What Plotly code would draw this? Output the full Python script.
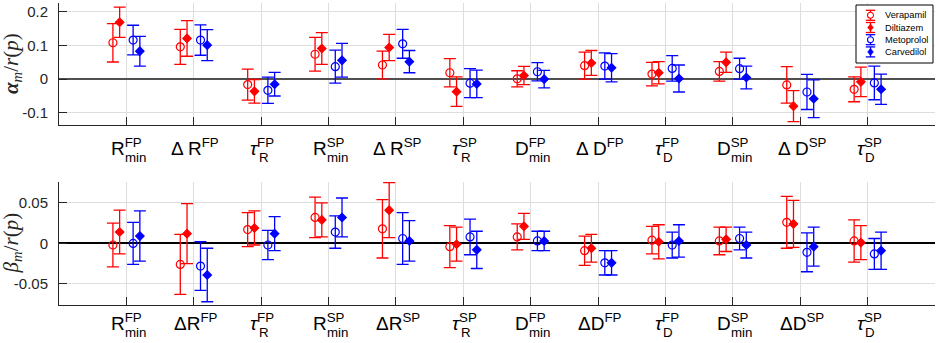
import plotly.graph_objects as go

# ---------------- data ----------------
cat_base_top = ["R", "Δ R", "τ", "R", "Δ R", "τ", "D", "Δ D", "τ", "D", "Δ D", "τ"]
cat_base_bot = ["R", "ΔR", "τ", "R", "ΔR", "τ", "D", "ΔD", "τ", "D", "ΔD", "τ"]
cat_sup = ["FP", "FP", "FP", "SP", "SP", "SP", "FP", "FP", "FP", "SP", "SP", "SP"]
cat_sub = ["min", "", "R", "min", "", "R", "min", "", "D", "min", "", "D"]

drugs = ["Verapamil", "Diltiazem", "Metoprolol", "Carvedilol"]

alpha_verapamil = [0.108, 0.096, -0.016, 0.074, 0.042, 0.019, 0.001, 0.040, 0.015, 0.023, -0.017, -0.030]
alpha_verapamil_err = [0.057, 0.052, 0.046, 0.050, 0.041, 0.042, 0.024, 0.040, 0.035, 0.029, 0.054, 0.037]
alpha_diltiazem = [0.169, 0.121, -0.036, 0.091, 0.094, -0.037, 0.011, 0.048, 0.019, 0.050, -0.080, -0.008]
alpha_diltiazem_err = [0.045, 0.053, 0.035, 0.047, 0.039, 0.044, 0.027, 0.037, 0.033, 0.030, 0.046, 0.044]
alpha_metoprolol = [0.116, 0.116, -0.033, 0.037, 0.105, -0.012, 0.022, 0.039, 0.032, 0.031, -0.038, -0.011]
alpha_metoprolol_err = [0.044, 0.045, 0.039, 0.049, 0.043, 0.043, 0.027, 0.039, 0.038, 0.031, 0.052, 0.050]
alpha_carvedilol = [0.083, 0.101, -0.015, 0.056, 0.052, -0.014, 0.000, 0.034, 0.002, 0.005, -0.058, -0.030]
alpha_carvedilol_err = [0.044, 0.046, 0.035, 0.050, 0.033, 0.041, 0.026, 0.042, 0.040, 0.034, 0.056, 0.045]

beta_verapamil = [-0.002, -0.026, 0.017, 0.032, 0.018, -0.004, 0.008, -0.009, 0.004, 0.003, 0.026, 0.003]
beta_verapamil_err = [0.027, 0.037, 0.021, 0.025, 0.036, 0.026, 0.016, 0.018, 0.017, 0.017, 0.032, 0.026]
beta_diltiazem = [0.014, 0.012, 0.019, 0.029, 0.041, -0.001, 0.021, -0.006, 0.002, 0.005, 0.024, 0.001]
beta_diltiazem_err = [0.027, 0.037, 0.021, 0.021, 0.034, 0.021, 0.016, 0.017, 0.021, 0.015, 0.029, 0.021]
beta_metoprolol = [0.000, -0.028, -0.002, 0.014, 0.006, 0.008, 0.003, -0.024, -0.002, 0.006, -0.011, -0.013]
beta_metoprolol_err = [0.026, 0.030, 0.018, 0.020, 0.032, 0.022, 0.012, 0.015, 0.016, 0.014, 0.024, 0.019]
beta_carvedilol = [0.009, -0.039, 0.012, 0.032, 0.003, -0.008, 0.003, -0.024, 0.003, -0.002, -0.004, -0.009]
beta_carvedilol_err = [0.031, 0.033, 0.021, 0.024, 0.025, 0.023, 0.012, 0.015, 0.020, 0.016, 0.024, 0.023]

alpha_ticks = [-0.1, 0, 0.1, 0.2]
alpha_ticktext = ["-0.1", "0", "0.1", "0.2"]
beta_ticks = [-0.05, 0, 0.05]
beta_ticktext = ["-0.05", "0", "0.05"]

# ---------------- style ----------------
W, H = 941, 343
ML, MR, MT, MB = 59, 6, 3, 38
PW, PH = W - ML - MR, H - MT - MB
SANS = "Liberation Sans, Arial, sans-serif"
SERIF = "Liberation Serif, Times New Roman, serif"
AX = "#262626"
RED, BLUE = "#ff0000", "#0000ff"

styles = {
    "Verapamil": dict(color=RED, symbol="circle-open", size=8, offset=-0.2),
    "Diltiazem": dict(color=RED, symbol="diamond", size=6.5, offset=-0.1),
    "Metoprolol": dict(color=BLUE, symbol="circle-open", size=8, offset=0.1),
    "Carvedilol": dict(color=BLUE, symbol="diamond", size=6.5, offset=0.2),
}
alpha_data = {
    "Verapamil": (alpha_verapamil, alpha_verapamil_err),
    "Diltiazem": (alpha_diltiazem, alpha_diltiazem_err),
    "Metoprolol": (alpha_metoprolol, alpha_metoprolol_err),
    "Carvedilol": (alpha_carvedilol, alpha_carvedilol_err),
}
beta_data = {
    "Verapamil": (beta_verapamil, beta_verapamil_err),
    "Diltiazem": (beta_diltiazem, beta_diltiazem_err),
    "Metoprolol": (beta_metoprolol, beta_metoprolol_err),
    "Carvedilol": (beta_carvedilol, beta_carvedilol_err),
}

fig = go.Figure()
ncat = len(cat_sup)
for data, xa, ya in [(alpha_data, "x", "y"), (beta_data, "x2", "y2")]:
    for d in drugs:
        vals, errs = data[d]
        st = styles[d]
        fig.add_trace(go.Scatter(
            x=[i + 1 + st["offset"] for i in range(ncat)], y=vals,
            mode="markers", name=d, showlegend=False,
            xaxis=xa, yaxis=ya,
            marker=dict(color=st["color"], symbol=st["symbol"], size=st["size"],
                        line=dict(color=st["color"], width=1.2)),
            error_y=dict(type="data", array=errs, visible=True, color=st["color"],
                         thickness=1.3, width=6),
        ))

xcommon = dict(range=[0, ncat + 1], tickvals=list(range(1, ncat + 1)), showticklabels=False,
               ticks="inside", ticklen=8, tickcolor=AX, tickwidth=1,
               showgrid=True, gridcolor="#dedede", gridwidth=1, automargin=False,
               showline=True, linecolor=AX, linewidth=1, zeroline=False, mirror=False)
ycommon = dict(ticks="inside", ticklen=8, tickcolor=AX, tickwidth=1,
               showgrid=True, gridcolor="#dedede", gridwidth=1, automargin=False,
               showline=True, linecolor=AX, linewidth=1, mirror=False,
               tickfont=dict(family=SANS, size=15, color=AX), ticklabelstandoff=7,
               zeroline=True)

fig.update_layout(
    width=W, height=H, margin=dict(l=ML, r=MR, t=MT, b=MB, autoexpand=False),
    paper_bgcolor="white", plot_bgcolor="white", showlegend=False,
    xaxis=dict(domain=[0, 1], anchor="y", **xcommon),
    yaxis=dict(domain=[0.596, 1], anchor="x", range=[-0.136, 0.226],
               tickvals=alpha_ticks, ticktext=alpha_ticktext,
               zerolinecolor="#505050", zerolinewidth=2, **ycommon),
    xaxis2=dict(domain=[0, 1], anchor="y2", **xcommon),
    yaxis2=dict(domain=[0, 0.408], anchor="x2", range=[-0.076, 0.076],
                tickvals=beta_ticks, ticktext=beta_ticktext,
                zerolinecolor="#000000", zerolinewidth=1.6, **ycommon),
)

# ------------- x tick labels (stacked super/subscripts) -------------
CW = {"R": 722, "D": 722, "Δ": 668, " ": 278, "τ": 440, "F": 611, "P": 667, "S": 667,
      "m": 833, "i": 222, "n": 556}


def tw(s, size):
    return sum(CW.get(c, 600) for c in s) * size / 1000.0


BASE = 19
SCRIPT = BASE * 0.7

annotations = []
for bases, xa, ysA in [(cat_base_top, "x", -8), (cat_base_bot, "x2", -3)]:
    ydom = ("y" if xa == "x" else "y2") + " domain"
    for i in range(ncat):
        base, sup, sub = bases[i], cat_sup[i], cat_sub[i]
        bm = "<i>τ</i>" if base == "τ" else base
        total = tw(base, BASE) + max(tw(sup, SCRIPT), tw(sub, SCRIPT))
        left = -total / 2
        annotations.append(dict(
            x=i + 1, xref=xa, y=0, yref=ydom, text=bm + "<sup>" + sup + "</sup>",
            showarrow=False, xanchor="left", yanchor="top", xshift=left, yshift=ysA,
            font=dict(family=SANS, size=BASE, color="black")))
        if sub:
            annotations.append(dict(
                x=i + 1, xref=xa, y=0, yref=ydom, text=sub,
                showarrow=False, xanchor="left", yanchor="top",
                xshift=left + tw(base, BASE), yshift=ysA - 15,
                font=dict(family=SANS, size=SCRIPT, color="black")))

# ------------- y axis titles -------------
def px2x(px):
    return (px - ML) / PW


def py2y(py):
    return (H - MB - py) / PH


annotations.append(dict(
    text="<b><i>α</i></b><sub><i>m</i></sub>/<i>r</i>(<i>p</i>)", textangle=-90,
    x=px2x(12), xref="paper", y=0.5, yref="y domain", showarrow=False,
    xanchor="center", yanchor="middle", font=dict(family=SERIF, size=21, color=AX)))
annotations.append(dict(
    text="<i>β</i><sub><i>m</i></sub>/<i>r</i>(<i>p</i>)", textangle=-90,
    x=px2x(12), xref="paper", y=0.5, yref="y2 domain", showarrow=False,
    xanchor="center", yanchor="middle", font=dict(family=SERIF, size=21, color=AX)))

# ------------- legend (drawn manually, compact like the original) -------------
shapes = []
LX0, LX1, LY0, LY1 = 856, 933, 5, 63
shapes.append(dict(type="rect", xref="paper", yref="paper", x0=px2x(LX0), x1=px2x(LX1),
                   y0=py2y(LY1), y1=py2y(LY0), line=dict(color="black", width=1),
                   fillcolor="white", layer="above"))
GX, TX = 870.5, 883.5
for k, d in enumerate(drugs):
    st = styles[d]
    cy = 15.3 + 12.2 * k
    c = st["color"]
    ln = dict(color=c, width=1.3)
    shapes.append(dict(type="line", xref="paper", yref="paper", x0=px2x(GX), x1=px2x(GX),
                       y0=py2y(cy - 5), y1=py2y(cy + 5), line=ln, layer="above"))
    for yy in (cy - 5, cy + 5):
        shapes.append(dict(type="line", xref="paper", yref="paper", x0=px2x(GX - 4.7),
                           x1=px2x(GX + 4.7), y0=py2y(yy), y1=py2y(yy), line=ln, layer="above"))
    if st["symbol"] == "circle-open":
        shapes.append(dict(type="circle", xref="paper", yref="paper",
                           x0=px2x(GX - 3), x1=px2x(GX + 3), y0=py2y(cy + 3), y1=py2y(cy - 3),
                           line=dict(color=c, width=1.1), fillcolor="white", layer="above"))
    else:
        r = 3.6
        path = "M %f %f L %f %f L %f %f L %f %f Z" % (
            px2x(GX), py2y(cy - r), px2x(GX + r * 0.8), py2y(cy),
            px2x(GX), py2y(cy + r), px2x(GX - r * 0.8), py2y(cy))
        shapes.append(dict(type="path", xref="paper", yref="paper", path=path,
                           line=dict(color=c, width=0.5), fillcolor=c, layer="above"))
    annotations.append(dict(text=d, x=px2x(TX), xref="paper", y=py2y(cy), yref="paper",
                            xanchor="left", yanchor="middle", showarrow=False, borderpad=0,
                            font=dict(family=SANS, size=9.3, color="black")))

fig.update_layout(annotations=annotations, shapes=shapes)
fig.write_html("out.html", config={"displayModeBar": False},
               post_script="document.body.style.margin='0';document.body.style.overflow='hidden';")
